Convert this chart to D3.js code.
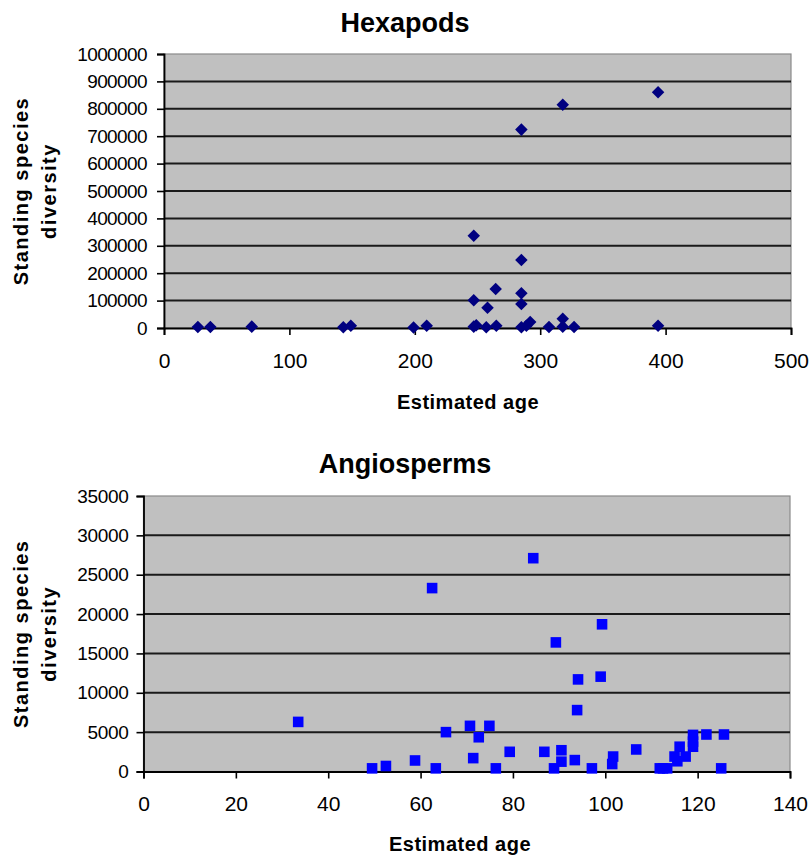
<!DOCTYPE html>
<html lang="en">
<head>
<meta charset="UTF-8">
<title>Hexapods and Angiosperms</title>
<script src="https://d3js.org/d3.v7.min.js"></script>
<style>
  body { margin: 0; background: #fff; }
  svg { font-family: Arial, "Liberation Sans", sans-serif; }
</style>
</head>
<body>
<div id="chart"></div>
<script>
  // Hexapods (top panel)
  const hexAge = [27, 37, 70, 143, 149, 199, 209.5, 247, 247, 247, 249, 258, 257, 264.5, 265,
                  285, 285, 285, 285, 285, 292, 289, 307, 318, 318, 318, 327, 394, 394];
  const hexDiversity = [4000, 4000, 5000, 3000, 8000, 2000, 8000, 337000, 101000, 5000, 10000, 74000, 3000, 142000, 8000,
                        724000, 248000, 127000, 88000, 3000, 22000, 8000, 4000, 815000, 34000, 5000, 4000, 860000, 8000];
  const hexAgeTicks = [0, 100, 200, 300, 400, 500];
  const hexDivTicks = [0, 100000, 200000, 300000, 400000, 500000, 600000, 700000, 800000, 900000, 1000000];

  // Angiosperms (bottom panel)
  const angAge = [33.5, 62.5, 49.5, 52.5, 58.8, 63.3, 65.5, 70.7, 72.6, 71.4, 74.9, 76.3, 79.3, 86.8,
                  90.5, 90.5, 88.9, 93.4, 97.1, 101.7, 101.5, 106.7, 112.5, 111.8, 113.4,
                  116.1, 115.0, 115.6, 117.4, 119, 119, 119, 121.9, 125.7, 125.1,
                  84.4, 99.3, 89.3, 94.1, 99.0, 93.9];
  const angDiversity = [6300, 23300, 400, 700, 1400, 400, 5000, 5800, 4350, 1700, 5800, 400, 2500, 2500,
                        2700, 1250, 400, 1450, 400, 1900, 950, 2800, 400, 400, 400,
                        3150, 1900, 1300, 1900, 4650, 3800, 3150, 4700, 4700, 400,
                        27100, 18700, 16400, 11700, 12050, 7800];
  const angAgeTicks = [0, 20, 40, 60, 80, 100, 120, 140];
  const angDivTicks = [0, 5000, 10000, 15000, 20000, 25000, 30000, 35000];

  const W = 811, H = 856;
  const svg = d3.select("#chart").append("svg")
      .attr("width", W)
      .attr("height", H);

  // square-ish diamond like Excel's marker
  const diamond = {
    draw(ctx, size) {
      const r = Math.sqrt(size) * 0.62625;
      ctx.moveTo(0, -r); ctx.lineTo(r, 0); ctx.lineTo(0, r); ctx.lineTo(-r, 0); ctx.closePath();
    }
  };

  function drawPanel(p) {
    const x = d3.scaleLinear().domain([p.xTicks[0], p.xTicks[p.xTicks.length - 1]]).range([p.left, p.right]);
    const y = d3.scaleLinear().domain([p.yTicks[0], p.yTicks[p.yTicks.length - 1]]).range([p.bottom, p.top]);
    const g = svg.append("g");

    // plot area
    g.append("rect")
      .attr("x", p.left).attr("y", p.top)
      .attr("width", p.right - p.left).attr("height", p.bottom - p.top)
      .attr("fill", "#c0c0c0")
      .attr("stroke", "#8a8a8a").attr("stroke-width", 1.2);

    // gridlines
    g.append("g").selectAll("line")
      .data(p.yTicks.slice(1, -1))
      .join("line")
        .attr("x1", p.left).attr("x2", p.right)
        .attr("y1", d => y(d)).attr("y2", d => y(d))
        .attr("stroke", "#1a1a1a").attr("stroke-width", 2);

    // axes
    const xAxis = g.append("g")
      .attr("transform", `translate(0,${p.bottom})`)
      .call(d3.axisBottom(x).tickValues(p.xTicks).tickSize(7).tickPadding(18).tickFormat(d3.format("d")));
    xAxis.selectAll("text").style("font-size", "21px").attr("fill", "#000");

    const yAxis = g.append("g")
      .attr("transform", `translate(${p.left},0)`)
      .call(d3.axisLeft(y).tickValues(p.yTicks).tickSize(7).tickPadding(p.yPad).tickFormat(d3.format("d")));
    yAxis.selectAll("text")
      .style("font-size", p.yFont + "px")
      .style("letter-spacing", p.ySpacing + "px")
      .attr("fill", "#000");

    [xAxis, yAxis].forEach(a => {
      a.select(".domain").attr("stroke", "#000").attr("stroke-width", 1.8);
      a.selectAll(".tick line").attr("stroke", "#000").attr("stroke-width", 1.6);
    });

    // markers
    g.append("g").selectAll("path")
      .data(p.xs.map((v, i) => [v, p.ys[i]]))
      .join("path")
        .attr("transform", d => `translate(${x(d[0])},${y(d[1])})`)
        .attr("d", d3.symbol(p.symbol, p.symbolSize))
        .attr("fill", p.color);

    // title
    svg.append("text")
      .attr("x", 405).attr("y", p.titleY)
      .attr("text-anchor", "middle")
      .style("font-size", "27px").style("font-weight", "bold")
      .text(p.title);

    // x axis title
    svg.append("text")
      .attr("x", p.xTitleX).attr("y", p.xTitleY)
      .attr("text-anchor", "middle")
      .style("font-size", "20px").style("font-weight", "bold")
      .style("letter-spacing", "0.5px")
      .text("Estimated age");

    // y axis title, two lines
    const yt = svg.append("g")
      .attr("transform", `translate(28,${(p.top + p.bottom) / 2}) rotate(-90)`);
    yt.append("text")
      .attr("text-anchor", "middle")
      .style("font-size", "20px").style("font-weight", "bold")
      .style("letter-spacing", "1.5px")
      .text("Standing species");
    yt.append("text")
      .attr("y", 28)
      .attr("text-anchor", "middle")
      .style("font-size", "20px").style("font-weight", "bold")
      .style("letter-spacing", "1.5px")
      .text("diversity");
  }

  drawPanel({
    title: "Hexapods", titleY: 32,
    left: 164, right: 791, top: 54, bottom: 328,
    xs: hexAge, ys: hexDiversity, xTicks: hexAgeTicks, yTicks: hexDivTicks,
    yFont: 19, ySpacing: -0.6, yPad: 10,
    xTitleX: 468, xTitleY: 409,
    symbol: diamond, symbolSize: 100, color: "#000080"
  });

  drawPanel({
    title: "Angiosperms", titleY: 473,
    left: 143.5, right: 790, top: 496, bottom: 771.5,
    xs: angAge, ys: angDiversity, xTicks: angAgeTicks, yTicks: angDivTicks,
    yFont: 19, ySpacing: -0.3, yPad: 8,
    xTitleX: 460, xTitleY: 851,
    symbol: d3.symbolSquare, symbolSize: 112, color: "#0000ff"
  });
</script>
</body>
</html>
